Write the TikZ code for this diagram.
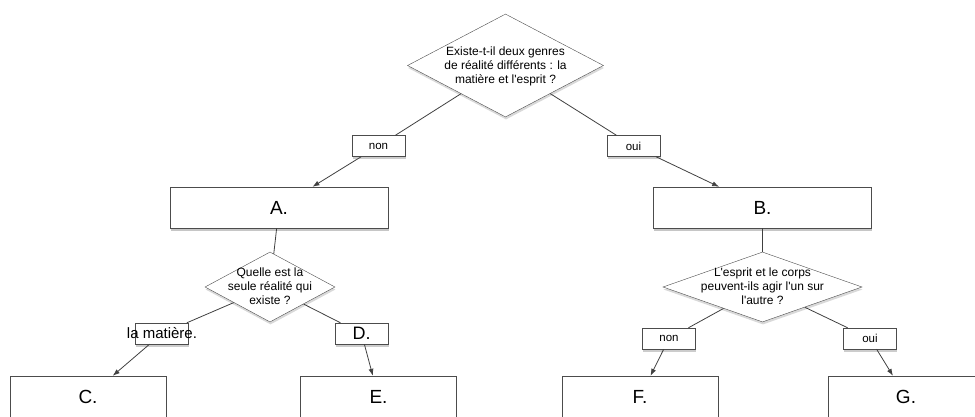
\documentclass[tikz,border=0pt]{standalone}
\usepackage{fontspec}
\setmainfont{Liberation Sans}
\usetikzlibrary{shapes.geometric,shadows,arrows.meta}
\newcommand{\qtext}[1]{\smash{\makebox[0pt]{\raisebox{-4pt}{\begin{tabular}{@{}c@{}}#1\end{tabular}}}}}
\begin{document}
\begin{tikzpicture}[x=1pt,y=-1pt,>={Latex[length=7pt,width=5pt]},
  question/.style={diamond,draw=black!70,fill=white,inner sep=0pt,
    drop shadow={shadow xshift=0.5pt,shadow yshift=-2.5pt,opacity=0.3},
    font=\fontsize{12}{14}\selectfont},
  answer/.style={rectangle,draw=black!70,fill=white,inner sep=0pt,
    minimum width=53pt,minimum height=21pt,
    drop shadow={shadow xshift=0.8pt,shadow yshift=-2.5pt,opacity=0.4},
    font=\fontsize{11.5}{13}\selectfont},
  stage/.style={rectangle,draw=black!70,fill=white,inner sep=0pt,
    minimum width=218pt,minimum height=41pt,
    drop shadow={shadow xshift=0.8pt,shadow yshift=-3pt,opacity=0.45},
    font=\fontsize{19}{22}\selectfont},
  link/.style={draw=black!75,line width=0.8pt}]
  \clip (0,0) rectangle (975,417);
  \node[question,minimum width=196pt,minimum height=103pt] (q1) at (505.5,65.5)
    {\qtext{Existe-t-il deux genres\\de réalité différents : la\\matière et l\textquotesingle esprit ?}};
  \node[stage] (A) at (279,207.5) {A.};
  \node[stage] (B) at (762.5,207.5) {B.};
  \node[answer] (non1) at (378.5,146) {non};
  \node[answer] (oui1) at (633.5,146) {oui};
  \node[question,minimum width=130pt,minimum height=70pt] (q3) at (270,287)
    {\qtext{Quelle est la\\seule réalité qui\\existe ?}};
  \node[question,minimum width=199pt,minimum height=70pt] (q2) at (762.5,287)
    {\qtext{L\textquotesingle esprit et le corps\\peuvent-ils agir l\textquotesingle un sur\\l\textquotesingle autre ?}};
  \node[answer] (mat) at (162,333.5) {\makebox[0pt]{\fontsize{15}{18}\selectfont la matière.}};
  \node[answer,font=\fontsize{18}{20}\selectfont] (D) at (361.5,333.5) {D.};
  \node[answer] (non2) at (669,338.5) {non};
  \node[answer] (oui2) at (870,338.5) {oui};
  \foreach \n/\x in {C/88,E/378.5,F/640,G/906}
    \node[stage,minimum width=156pt,minimum height=42pt] (\n) at (\x,397) {\n.};
  \draw[link] (q1) -- (non1);
  \draw[link,->] (non1) -- (A);
  \draw[link] (q1) -- (oui1);
  \draw[link,->] (oui1) -- (B);
  \draw[link] (A) -- (q3);
  \draw[link] (B) -- (q2);
  \draw[link] (q3) -- (mat);
  \draw[link,->] (mat) -- (C);
  \draw[link] (q3) -- (D);
  \draw[link,->] (D) -- (E);
  \draw[link] (q2) -- (non2);
  \draw[link,->] (non2) -- (F);
  \draw[link] (q2) -- (oui2);
  \draw[link,->] (oui2) -- (G);
\end{tikzpicture}
\end{document}
